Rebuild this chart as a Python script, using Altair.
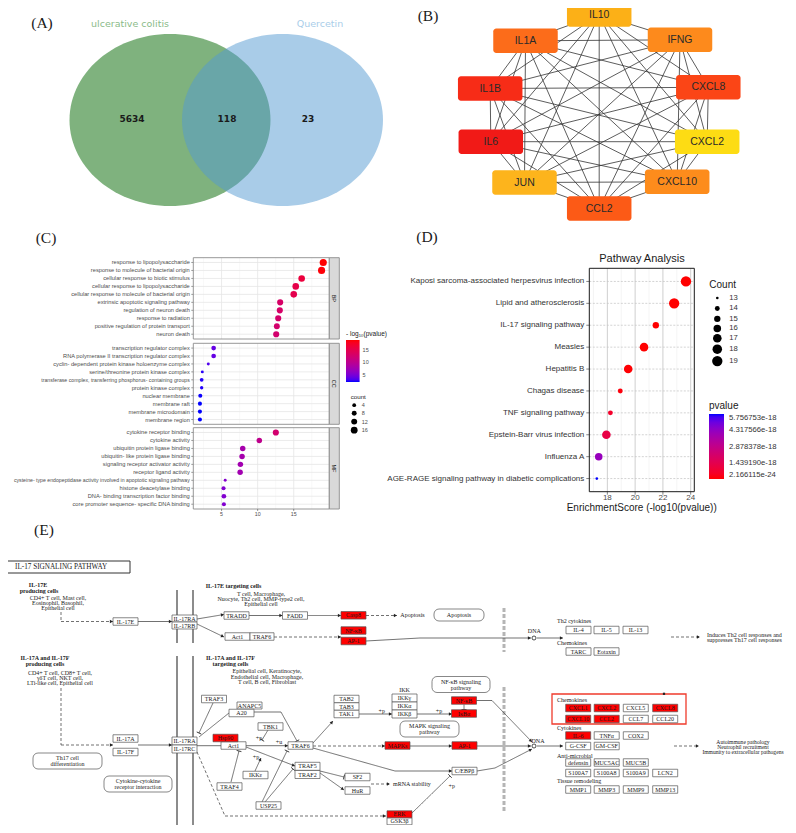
import math
import altair as alt
import pandas as pd

# ------------------------------------------------------------------ DATA
venn_sets = ["ulcerative colitis", "Quercetin"]
venn_counts = [5634, 118, 23]          # only UC, shared, only quercetin

hub_genes = ["IL10", "IFNG", "CXCL8", "CXCL2", "CXCL10", "CCL2", "JUN", "IL6", "IL1B", "IL1A"]

go_bp_terms = ["response to lipopolysaccharide", "response to molecule of bacterial origin",
               "cellular response to biotic stimulus", "cellular response to lipopolysaccharide",
               "cellular response to molecule of bacterial origin", "extrinsic apoptotic signaling pathway",
               "regulation of neuron death", "response to radiation",
               "positive regulation of protein transport", "neuron death"]
go_bp_score = [19.09, 18.86, 16.10, 15.28, 15.00, 13.12, 13.07, 12.85, 12.66, 12.57]
go_bp_count = [18, 18, 15, 15, 15, 13, 13, 13, 12, 13]

go_cc_terms = ["transcription regulator complex", "RNA polymerase II transcription regulator complex",
               "cyclin- dependent protein kinase holoenzyme complex", "serine/threonine protein kinase complex",
               "transferase complex, transferring phosphorus- containing groups", "protein kinase complex",
               "nuclear membrane", "membrane raft", "membrane microdomain", "membrane region"]
go_cc_score = [3.90, 3.90, 3.16, 2.33, 2.24, 2.24, 2.05, 2.00, 2.00, 2.00]
go_cc_count = [7, 7, 2, 2, 4, 3, 5, 5, 5, 5]

go_mf_terms = ["cytokine receptor binding", "cytokine activity", "ubiquitin protein ligase binding",
               "ubiquitin- like protein ligase binding", "signaling receptor activator activity",
               "receptor ligand activity",
               "cysteine- type endopeptidase activity involved in apoptotic signaling pathway",
               "histone deacetylase binding", "DNA- binding transcription factor binding",
               "core promoter sequence- specific DNA binding"]
go_mf_score = [12.52, 10.23, 7.93, 7.84, 7.61, 7.57, 5.50, 5.27, 5.32, 5.32]
go_mf_count = [13, 10, 10, 10, 10, 10, 2, 5, 7, 5]

kegg_terms = ["Kaposi sarcoma-associated herpesvirus infection", "Lipid and atherosclerosis",
              "IL-17 signaling pathway", "Measles", "Hepatitis B", "Chagas disease",
              "TNF signaling pathway", "Epstein-Barr virus infection", "Influenza A",
              "AGE-RAGE signaling pathway in diabetic complications"]
kegg_score = [23.66, 22.81, 21.49, 20.64, 19.50, 18.93, 18.22, 17.93, 17.38, 17.24]
kegg_count = [19, 19, 15, 17, 17, 14, 14, 17, 16, 13]
kegg_pvalue_ticks = [2.166115e-24, 1.439190e-18, 2.878378e-18, 4.317566e-18, 5.756753e-18]

il17_hits = ["Casp8", "NF-κB", "AP-1", "Hsp90", "MAPKs", "IκBα", "ERK",
             "CXCL1", "CXCL2", "CXCL8", "CXCL10", "CCL2", "IL-6"]

# ------------------------------------------------------------------ LAYOUT / STYLE
W, H = 780, 817
PXS = alt.Scale(domain=[8, 788], range=[0, W])
PYS = alt.Scale(domain=[8, 825], range=[0, H])
SANS = "Liberation Sans"
SERIF = "Liberation Serif"


def exy(xf="x", yf="y"):
    return dict(x=alt.X(f"{xf}:Q", scale=PXS, axis=None), y=alt.Y(f"{yf}:Q", scale=PYS, axis=None))


def rect_layer(df, **mk):
    return alt.Chart(df).mark_rect(**mk).encode(
        x=alt.X("x0:Q", scale=PXS, axis=None), x2="x1:Q",
        y=alt.Y("y0:Q", scale=PYS, axis=None), y2="y1:Q")


def rule_layer(df, **mk):
    return alt.Chart(df).mark_rule(**mk).encode(
        x=alt.X("x0:Q", scale=PXS, axis=None), x2="x1:Q",
        y=alt.Y("y0:Q", scale=PYS, axis=None), y2="y1:Q")


def text_layer(rows, size, font, align="center", weight="normal", color="#1a1a1a", angle=None):
    df = pd.DataFrame(rows, columns=["t", "x", "y"])
    kw = dict(align=align, baseline="middle", fontSize=size, font=font, fontWeight=weight, color=color)
    if angle is not None:
        kw["angle"] = angle
    return alt.Chart(df).mark_text(**kw).encode(text="t:N", **exy())


def boxes(rows):
    return pd.DataFrame([dict(t=r[0], x=r[1], y=r[2], x0=r[1] - r[3] / 2, x1=r[1] + r[3] / 2,
                              y0=r[2] - r[4] / 2, y1=r[2] + r[4] / 2) for r in rows])


layers = []

# ---------------- panel letters
layers.append(text_layer([("(A)", 42, 23), ("(B)", 428, 16), ("(C)", 46, 238),
                          ("(D)", 427, 237), ("(E)", 44, 530)], 15.5, SERIF))

# ---------------- (A) Venn
ell = [(math.cos(2 * math.pi * k / 120), 0.856 * math.sin(2 * math.pi * k / 120)) for k in range(120)]
ELL = "M" + " L".join(f"{a:.4f},{b:.4f}" for a, b in ell) + " Z"
venn_df = pd.DataFrame({"set": venn_sets, "x": [170, 282.5], "y": [120, 120]})
layers.append(alt.Chart(venn_df.iloc[[0]]).mark_point(shape=ELL, size=40401, filled=True, color="#7fb27e",
                                                     opacity=1, strokeWidth=0).encode(**exy()))
layers.append(alt.Chart(venn_df.iloc[[1]]).mark_point(shape=ELL, size=40401, filled=True, color="#5399d2",
                                                     opacity=0.5, strokeWidth=0).encode(**exy()))
layers.append(text_layer([(venn_sets[0], 130, 24)], 9.5, "DejaVu Sans", color="#8abb89"))
layers.append(text_layer([(venn_sets[1], 320, 24)], 9.5, "DejaVu Sans", color="#a9cde9"))
layers.append(text_layer([(str(venn_counts[0]), 132, 119), (str(venn_counts[1]), 227, 119),
                          (str(venn_counts[2]), 308, 119)], 9, "DejaVu Sans", weight="bold"))

# ---------------- (B) PPI network
net_xy = [(599.2, 14.5), (680, 39.8), (708.3, 87.3), (707.2, 141.7), (677.2, 181.8),
          (599.2, 208.5), (524.5, 182.5), (490.8, 141.7), (490.2, 88.5), (525.5, 40.8)]
hub_palette = ["#fcb017", "#fd8a1c", "#fb4516", "#fddc14", "#fd8c1c",
               "#fc5a16", "#fdb41c", "#f11a17", "#f72c17", "#fc6c1a"]
edges = []
for i in range(len(hub_genes)):
    for j in range(i + 1, len(hub_genes)):
        edges.append(dict(x0=net_xy[i][0], y0=net_xy[i][1], x1=net_xy[j][0], y1=net_xy[j][1]))
layers.append(rule_layer(pd.DataFrame(edges), color="#333333", strokeWidth=0.8))
nodes = boxes([(g, xy[0], xy[1], 64.5, 24.5) for g, xy in zip(hub_genes, net_xy)])
layers.append(alt.Chart(nodes).mark_rect(cornerRadius=3).encode(
    x=alt.X("x0:Q", scale=PXS, axis=None), x2="x1:Q",
    y=alt.Y("y0:Q", scale=PYS, axis=None), y2="y1:Q",
    color=alt.Color("t:N", scale=alt.Scale(domain=hub_genes, range=hub_palette), legend=None)))
layers.append(alt.Chart(nodes).mark_text(fontSize=10.5, font=SANS, color="#2a2a2a", baseline="middle")
              .encode(text="t:N", **exy()))

# ---------------- (E) IL-17 pathway map
E_FS = 6
layers.append(rect_layer(pd.DataFrame([dict(x0=5, x1=130, y0=561, y1=573)]), fill="white",
                         stroke="#333333", strokeWidth=1))
layers.append(text_layer([("IL-17 SIGNALING PATHWAY", 15, 567)], 7.2, SERIF, align="left"))
mem = pd.DataFrame([dict(x0=177, x1=177, y0=590, y1=643), dict(x0=193, x1=193, y0=590, y1=643),
                    dict(x0=177, x1=177, y0=656, y1=830), dict(x0=193, x1=193, y0=656, y1=830)])
layers.append(rule_layer(mem, color="#8c8c8c", strokeWidth=2))
nuc = pd.DataFrame([dict(x0=504, x1=504, y0=608, y1=652), dict(x0=504, x1=504, y0=687, y1=812)])
layers.append(rule_layer(nuc, color="#b5b5b5", strokeWidth=3, strokeDash=[4, 2]))

links = [
    (61, 612, 61, 621.5, "dashed", ""), (61, 621.5, 113, 621.5, "dashed", "arrow"),
    (138, 621.5, 172, 621.5, "solid", "arrow"), (197, 619, 224, 614.5, "solid", "arrow"),
    (197, 624, 224, 637, "solid", "arrow"), (249, 615.5, 282.5, 615.5, "solid", "arrow"),
    (307.5, 615.5, 341, 615.5, "solid", "arrow"), (366, 615.5, 397, 615.5, "dashed", "arrow"),
    (274, 637, 341, 637, "dashed", "arrow"), (366, 641, 420, 638, "solid", ""),
    (420, 638, 531, 638, "solid", "arrow"), (537, 638, 563, 638, "solid", "arrow"),
    (671, 637, 700, 637, "dashed", "arrow"),
    (61, 688, 61, 745, "dashed", ""), (61, 745, 113, 745, "dashed", "arrow"),
    (138, 745, 172, 745, "solid", "arrow"), (197, 745.7, 221, 745.7, "solid", ""),
    (246, 745.7, 288, 745.7, "solid", "arrow"), (213, 703, 199, 733, "solid", "bar"),
    (229, 713, 199, 737, "solid", ""), (254, 712, 281, 712, "solid", ""),
    (281, 712, 297, 741, "solid", "bar"), (268, 730, 262, 740, "solid", "bar"),
    (313, 743, 333, 721, "solid", "arrow"), (359, 714, 392, 714, "solid", "arrow"),
    (417, 714, 452, 714, "solid", "arrow"), (464, 704.5, 464, 709.5, "solid", "bar"),
    (476, 700.5, 492, 700.5, "solid", ""), (492, 700.5, 532, 742, "solid", "arrow"),
    (313, 746, 385, 746, "dashed", "arrow"), (410, 746, 452, 746, "solid", "arrow"),
    (477, 746, 531, 746, "solid", "arrow"), (313, 748, 395, 771, "solid", ""),
    (395, 771, 452, 771, "solid", "arrow"), (477, 771, 495, 768, "solid", ""),
    (495, 768, 532, 749, "solid", "arrow"), (537, 746, 563, 746, "solid", "arrow"),
    (246, 747, 295, 766, "solid", "arrow"), (231, 782, 239, 751, "solid", "bar"),
    (255, 771, 261, 758, "solid", "arrow"), (262, 802, 287, 751, "solid", "bar"),
    (265, 802, 293, 769, "solid", "bar"), (320, 771, 344, 777, "solid", "bar"),
    (320, 773, 344, 790, "solid", "arrow"), (371, 784, 390, 784, "dashed", "arrow"),
    (197, 752, 225, 816, "dashed", ""), (225, 816, 386, 816, "dashed", "arrow"),
    (412, 813, 450, 776, "solid", "bar"), (674, 746, 699, 746, "dashed", "arrow"),
]
ldf = pd.DataFrame([dict(x0=a, y0=b, x1=c, y1=d, style=s) for a, b, c, d, s, _ in links])
layers.append(alt.Chart(ldf).mark_rule(color="#333333", strokeWidth=0.7).encode(
    x=alt.X("x0:Q", scale=PXS, axis=None), x2="x1:Q",
    y=alt.Y("y0:Q", scale=PYS, axis=None), y2="y1:Q",
    strokeDash=alt.StrokeDash("style:N", scale=alt.Scale(domain=["solid", "dashed"], range=[[1, 0], [3, 2]]),
                              legend=None)))
heads = []
for a, b, c, d, s, h in links:
    if not h:
        continue
    L = math.hypot(c - a, d - b)
    ux, uy = (c - a) / L, (d - b) / L
    ang = math.degrees(math.atan2(ux, -uy)) % 360
    back = 1.6 if h == "arrow" else 0
    heads.append(dict(x=c - ux * back, y=d - uy * back, ang=ang, kind=h))
hdf = pd.DataFrame(heads)
layers.append(alt.Chart(hdf[hdf.kind == "arrow"]).mark_point(shape="triangle-up", filled=True, size=12,
                                                             color="#222222", opacity=1).encode(
    angle=alt.Angle("ang:Q", scale=None), **exy()))
layers.append(alt.Chart(hdf[hdf.kind == "bar"]).mark_point(shape="stroke", filled=False, size=25,
                                                           color="#222222", strokeWidth=0.8, opacity=1).encode(
    angle=alt.Angle("ang:Q", scale=None), **exy()))

rbox = boxes([("Apoptosis", 459, 615, 50, 12), ("Th17 cell differentiation", 67.5, 761, 69, 16),
              ("Cytokine-cytokine receptor interaction", 138, 784, 68, 16),
              ("NF-κB signaling pathway", 461, 684.5, 58, 16), ("MAPK signaling pathway", 429.5, 729, 59, 16)])
layers.append(rect_layer(rbox, fill="white", stroke="#555555", strokeWidth=0.7, cornerRadius=5))
layers.append(text_layer([("Apoptosis", 459, 615), ("Th17 cell", 67.5, 758), ("differentiation", 67.5, 764),
                          ("Cytokine-cytokine", 138, 781), ("receptor interaction", 138, 787),
                          ("NF-κB signaling", 461, 681.5), ("pathway", 461, 687.5),
                          ("MAPK signaling", 429.5, 726), ("pathway", 429.5, 732)], E_FS, SERIF))

layers.append(rect_layer(pd.DataFrame([dict(x0=552, x1=686, y0=694, y1=724)]), fill="white",
                         stroke="#ef3b2c", strokeWidth=1.3))
layers.append(alt.Chart(pd.DataFrame({"x": [664], "y": [693.8]})).mark_square(size=5, color="#222222",
                                                                              opacity=1).encode(**exy()))

gene_boxes = [
    ("IL-17E", 125.5, 621.5, 25, 7.5), ("IL-17RA", 184.5, 618.5, 25, 7), ("IL-17RB", 184.5, 625.5, 25, 7),
    ("TRADD", 236.5, 615.5, 25, 7.5), ("FADD", 295, 615.5, 25, 7.5), ("Casp8", 353.5, 615.3, 25, 7.5),
    ("NF-κB", 353.5, 630.5, 25, 7.5), ("AP-1", 353.5, 641, 25, 7.5),
    ("Act1", 237.5, 636.5, 25, 7.5), ("TRAF6", 262, 636.5, 24, 7.5),
    ("IL-4", 578.5, 630, 25, 7.5), ("IL-5", 606.5, 630, 25, 7.5), ("IL-13", 635.5, 630, 25, 7.5),
    ("TARC", 578.5, 651.5, 25, 7.5), ("Eotaxin", 606.5, 651.5, 25, 7.5),
    ("IL-17A", 125.5, 738.5, 25, 7.5), ("IL-17F", 125.5, 752, 25, 7.5),
    ("IL-17RA", 184.5, 741, 25, 8), ("IL-17RC", 184.5, 749, 25, 8),
    ("TRAF3", 214, 699, 25, 7.5), ("ANAPC5", 249.5, 705.5, 25, 7), ("A20", 241.5, 713, 25, 7.5),
    ("Hsp90", 225.5, 738, 25, 7.5), ("Act1", 233.5, 745.5, 25, 7.5), ("TBK1", 270.5, 726.5, 25, 7.5),
    ("TRAF6", 300.5, 745.5, 25, 7.5), ("IKKε", 255.5, 775, 25, 7.5), ("TRAF4", 229.5, 786.5, 25, 7.5),
    ("USP25", 268.5, 805.5, 25, 7.5), ("TRAF5", 307.5, 766.3, 25, 8), ("TRAF2", 307.5, 774.5, 25, 8),
    ("SF2", 357.5, 777, 25, 7.5), ("HuR", 357.5, 790.5, 25, 7.5),
    ("TAB2", 346.5, 699, 25, 7.5), ("TAB3", 346.5, 706.5, 25, 7.5), ("TAK1", 346.5, 714, 25, 7.5),
    ("IKKγ", 404.5, 698, 25, 8), ("IKKα", 404.5, 706, 25, 8), ("IKKβ", 404.5, 714, 25, 8),
    ("NF-κB", 464, 700.5, 25, 7.5), ("IκBα", 464, 713.5, 25, 7.5),
    ("MAPKs", 397.5, 745.5, 25, 7.5), ("AP-1", 464.5, 745.5, 25, 7.5), ("C/EBPβ", 464.5, 771, 25, 7.5),
    ("ERK", 399.5, 814.3, 25, 7), ("GSK3β", 399.5, 821.3, 25, 7),
    ("CXCL1", 578.2, 708, 25, 7.5), ("CXCL2", 606.7, 708, 25, 7.5), ("CXCL5", 635.8, 708, 25, 7.5),
    ("CXCL8", 665.2, 708, 25, 7.5), ("CXCL10", 578.2, 719, 25, 7.5), ("CCL2", 606.7, 719, 25, 7.5),
    ("CCL7", 635.8, 719, 25, 7.5), ("CCL20", 665.2, 719, 25, 7.5),
    ("IL-6", 578.2, 735.5, 25, 7.5), ("TNFα", 606.7, 735.5, 25, 7.5), ("COX2", 635.8, 735.5, 25, 7.5),
    ("G-CSF", 578.2, 746, 25, 7.5), ("GM-CSF", 606.7, 746, 25, 7.5),
    ("defensin", 578.2, 762.5, 25, 7.5), ("MUC5AC", 606.7, 762.5, 25, 7.5), ("MUC5B", 635.8, 762.5, 25, 7.5),
    ("S100A7", 578.2, 773, 25, 7.5), ("S100A8", 606.7, 773, 25, 7.5), ("S100A9", 635.8, 773, 25, 7.5),
    ("LCN2", 665.2, 773, 25, 7.5),
    ("MMP1", 578.2, 789.5, 25, 7.5), ("MMP3", 606.7, 789.5, 25, 7.5), ("MMP9", 635.8, 789.5, 25, 7.5),
    ("MMP13", 665.2, 789.5, 25, 7.5),
]
gb = boxes(gene_boxes)
hit_mask = gb["t"].isin(il17_hits)
layers.append(rect_layer(gb[~hit_mask], fill="#ffffff", stroke="#555555", strokeWidth=0.7))
layers.append(rect_layer(gb[hit_mask], fill="#ff0000", stroke="#555555", strokeWidth=0.7))
layers.append(alt.Chart(gb).mark_text(fontSize=E_FS, font=SERIF, color="#1a1a1a", baseline="middle")
              .encode(text="t:N", **exy()))
layers.append(alt.Chart(pd.DataFrame({"x": [534, 534], "y": [638, 746]})).mark_point(
    shape="circle", size=16, filled=True, fill="white", stroke="#222222", strokeWidth=0.8, opacity=1).encode(**exy()))

layers.append(text_layer([("IL-17E", 38, 585), ("producing cells", 39, 591),
                          ("IL-17E targeting cells", 233.5, 586),
                          ("IL-17A and IL-17F", 45, 658), ("producing cells", 45, 664),
                          ("IL-17A and IL-17F", 230.5, 658), ("targeting cells", 230.5, 664)],
                         E_FS, SERIF, weight="bold"))
layers.append(text_layer([
    ("CD4+ T cell, Mast cell,", 58, 598), ("Eosinophil, Basophil,", 58, 603), ("Epithelial cell", 58, 608),
    ("T cell, Macrophage,", 261, 593.5), ("Nuocyte, Th2 cell, MMP-type2 cell,", 261, 599),
    ("Epithelial cell", 261, 604),
    ("CD4+ T cell, CD8+ T cell,", 60, 673), ("γδT cell, NKT cell,", 60, 678),
    ("LTi-like cell, Epithelial cell", 60, 683),
    ("Epithelial cell, Keratinocyte,", 267, 671), ("Endothelial cell, Macrophage,", 267, 676.5),
    ("T cell, B cell, Fibroblast", 267, 682),
    ("Apoptosis", 412.5, 615), ("DNA", 534.3, 630.5), ("DNA", 538, 740.5), ("IKK", 404.5, 690),
    ("+p", 259, 737.7), ("+u", 279, 741.7), ("+p", 256, 756.7), ("+p", 381.7, 710.7),
    ("+p", 439, 710.7), ("+p", 451.7, 786)], E_FS, SERIF))
layers.append(text_layer([("Autoimmune pathology", 743, 742), ("Neutrophil recruitment", 743, 747),
                          ("Immunity to extracellular pathogens", 743, 752)], 5.6, SERIF))
layers.append(text_layer([
    ("Th2 cytokines", 557, 621), ("Chemokines", 557, 643), ("Chemokines", 557, 700),
    ("Cytokines", 557, 727.5), ("Anti-microbial", 557, 755.7), ("Tissue remodeling", 557, 781),
    ("Induces Th2 cell responses and", 707, 635), ("suppresses Th17 cell responses", 707, 640),
    ("mRNA stability", 393, 784)], E_FS, SERIF, align="left"))

pix = alt.layer(*layers)

# ---------------- (C) GO dot plot, three facet panels
C_X0, C_X1 = 185.3, 321.3
C_XS = dict(domain=[1.08, 19.93], range=[C_X0, C_X1])
C_COLOR = alt.Scale(domain=[2.0, 19.09], range=["#0000ff", "#ff0000"], interpolate="lab")
C_SIZE = alt.Scale(domain=[4, 16], range=[14, 46])
one = pd.DataFrame({"k": [0]})


def go_panel(terms, scores, counts, top, bottom, strip, legends, xaxis):
    t, b = top - 8, bottom - 8
    df = pd.DataFrame({"term": terms, "score": scores, "count": counts})
    xs = alt.Scale(**C_XS)
    Y = alt.Y("term:N", scale=alt.Scale(type="point", domain=list(terms), range=[t, b], padding=0.6), axis=None)
    parts = []
    parts.append(alt.Chart(one).mark_rect(fill="white").encode(
        x=alt.value(C_X0), x2=alt.value(C_X1), y=alt.value(t), y2=alt.value(b)))
    parts.append(alt.Chart(pd.DataFrame({"v": [2.5, 7.5, 12.5, 17.5]})).mark_rule(
        color="#f3f3f3", strokeWidth=0.5).encode(x=alt.X("v:Q", scale=xs, axis=None),
                                                  y=alt.value(t), y2=alt.value(b)))
    parts.append(alt.Chart(pd.DataFrame({"v": [5, 10, 15]})).mark_rule(
        color="#e6e6e6", strokeWidth=0.8).encode(x=alt.X("v:Q", scale=xs, axis=None),
                                                 y=alt.value(t), y2=alt.value(b)))
    parts.append(alt.Chart(df).mark_rule(color="#e6e6e6", strokeWidth=0.8).encode(
        y=Y, x=alt.value(C_X0), x2=alt.value(C_X1)))
    if legends:
        cl = alt.Legend(title="- log₁₀(pvalue)", orient="none", legendX=338, legendY=322.5,
                        values=[5, 10, 15], direction="vertical", gradientLength=42,
                        gradientThickness=13.6, gradientStrokeWidth=0, titleFontSize=6.5,
                        titleFont=SANS, titleFontWeight="normal", titleColor="#1a1a1a", titlePadding=3,
                        labelFontSize=5.5, labelFont=SANS, labelColor="#4d4d4d", labelOffset=3,
                        labelOverlap=False, padding=0)
        sl = alt.Legend(title="count", orient="none", legendX=342.7, legendY=386,
                        values=[4, 8, 12, 16], symbolType="circle", symbolFillColor="black",
                        symbolStrokeColor="black", symbolStrokeWidth=0, symbolOpacity=1,
                        titleFontSize=6.2, titleFont=SANS, titleFontWeight="normal", titleColor="#1a1a1a",
                        titlePadding=2.2, labelFontSize=5.5, labelFont=SANS, labelColor="#4d4d4d",
                        labelOffset=4, rowPadding=1.1, padding=0)
    else:
        cl = None
        sl = None
    parts.append(alt.Chart(df).mark_circle(opacity=1).encode(
        x=alt.X("score:Q", scale=xs, axis=None), y=Y,
        color=alt.Color("score:Q", scale=C_COLOR, legend=cl),
        size=alt.Size("count:Q", scale=C_SIZE, legend=sl)))
    short = df[df["term"].str.len() <= 60]
    long_ = df[df["term"].str.len() > 60]
    parts.append(alt.Chart(short).mark_text(align="right", baseline="middle", fontSize=5.7, font=SANS,
                                            color="#4d4d4d").encode(y=Y, x=alt.value(C_X0 - 3.5), text="term:N"))
    if len(long_):
        parts.append(alt.Chart(long_).mark_text(align="right", baseline="middle", fontSize=5.2, font=SANS,
                                                color="#4d4d4d").encode(y=Y, x=alt.value(C_X0 - 3.5),
                                                                        text="term:N"))
    parts.append(alt.Chart(df).mark_rule(color="#333333", strokeWidth=0.5).encode(
        y=Y, x=alt.value(C_X0 - 2), x2=alt.value(C_X0)))
    parts.append(alt.Chart(one).mark_rect(fillOpacity=0, stroke="#8c8c8c", strokeWidth=0.9).encode(
        x=alt.value(C_X0), x2=alt.value(C_X1), y=alt.value(t), y2=alt.value(b)))
    parts.append(alt.Chart(one).mark_rect(fill="#d9d9d9", stroke="#8c8c8c", strokeWidth=0.9).encode(
        x=alt.value(C_X1), x2=alt.value(C_X1 + 10), y=alt.value(t), y2=alt.value(b)))
    parts.append(alt.Chart(one).mark_text(angle=90, fontSize=5.5, font=SANS, color="#1a1a1a",
                                          baseline="middle").encode(
        x=alt.value(C_X1 + 5), y=alt.value((t + b) / 2), text=alt.value(strip)))
    if xaxis:
        tk = pd.DataFrame({"v": [5, 10, 15], "lab": ["5", "10", "15"]})
        parts.append(alt.Chart(tk).mark_rule(color="#333333", strokeWidth=0.5).encode(
            x=alt.X("v:Q", scale=xs, axis=None), y=alt.value(b), y2=alt.value(b + 2)))
        parts.append(alt.Chart(tk).mark_text(fontSize=5.3, font=SANS, color="#4d4d4d", baseline="middle").encode(
            x=alt.X("v:Q", scale=xs, axis=None), y=alt.value(b + 5), text="lab:N"))
    return alt.layer(*parts)


c_bp = go_panel(go_bp_terms, go_bp_score, go_bp_count, 257.7, 339.0, "BP", False, False)
c_cc = go_panel(go_cc_terms, go_cc_score, go_cc_count, 343.3, 424.3, "CC", True, False)
c_mf = go_panel(go_mf_terms, go_mf_score, go_mf_count, 427.7, 509.0, "MF", False, True)

# ---------------- (D) KEGG dot plot
D_X0, D_X1, D_T, D_B = 581.3, 686.3, 260.3, 483.7
kdf = pd.DataFrame({"term": kegg_terms, "score": kegg_score, "count": kegg_count})
kdf["pvalue"] = 10.0 ** (-kdf["score"])
dxs = alt.Scale(domain=[16.7, 24.26], range=[D_X0, D_X1])
DY = alt.Y("term:N", scale=alt.Scale(type="point", domain=kegg_terms, range=[D_T, D_B], padding=0.6), axis=None)
dparts = []
dparts.append(alt.Chart(one).mark_rect(fill="white").encode(
    x=alt.value(D_X0), x2=alt.value(D_X1), y=alt.value(D_T), y2=alt.value(D_B)))
dparts.append(alt.Chart(pd.DataFrame({"v": [17, 19, 21, 23]})).mark_rule(
    color="#ececec", strokeWidth=0.6).encode(x=alt.X("v:Q", scale=dxs, axis=None),
                                             y=alt.value(D_T), y2=alt.value(D_B)))
dparts.append(alt.Chart(pd.DataFrame({"v": [18, 20, 22, 24]})).mark_rule(
    color="#cfcfcf", strokeWidth=1).encode(x=alt.X("v:Q", scale=dxs, axis=None),
                                           y=alt.value(D_T), y2=alt.value(D_B)))
dparts.append(alt.Chart(kdf).mark_rule(color="#c8c8c8", strokeWidth=0.8, strokeDash=[2, 1.5]).encode(
    y=DY, x=alt.value(D_X0), x2=alt.value(D_X1)))
dparts.append(alt.Chart(kdf).mark_circle(opacity=1).encode(
    x=alt.X("score:Q", scale=dxs, axis=None), y=DY,
    color=alt.Color("pvalue:Q", scale=alt.Scale(domain=[kegg_pvalue_ticks[0], kegg_pvalue_ticks[-1]],
                                                range=["#ff0000", "#0000ff"], interpolate="lab"),
                    legend=alt.Legend(title="pvalue", orient="none", legendX=701, legendY=392.7,
                                      values=kegg_pvalue_ticks, format=".6e", direction="vertical",
                                      gradientLength=65, gradientThickness=15, gradientStrokeWidth=0,
                                      titleFontSize=10, titleFont=SANS, titleFontWeight="normal",
                                      titleColor="#1a1a1a", titlePadding=3.3, labelFontSize=7.7,
                                      labelFont=SANS, labelColor="#333333", labelOffset=5,
                                      labelOverlap=False, padding=0)),
    size=alt.Size("count:Q", scale=alt.Scale(domain=[13, 19], range=[7, 107]),
                  legend=alt.Legend(title="Count", orient="none", legendX=701.3, legendY=272,
                                    values=[13, 14, 15, 16, 17, 18, 19], symbolType="circle",
                                    symbolFillColor="black", symbolStrokeColor="black", symbolStrokeWidth=0,
                                    symbolOpacity=1, symbolOffset=2.5, titleFontSize=10, titleFont=SANS,
                                    titleFontWeight="normal", titleColor="#1a1a1a", titlePadding=4.2,
                                    labelFontSize=7.7, labelFont=SANS, labelColor="#333333", labelOffset=6.5,
                                    rowPadding=1.4, padding=0))))
dparts.append(alt.Chart(kdf).mark_text(align="right", baseline="middle", fontSize=8, font=SANS,
                                       color="#333333").encode(y=DY, x=alt.value(D_X0 - 5), text="term:N"))
dparts.append(alt.Chart(kdf).mark_rule(color="#333333", strokeWidth=0.6).encode(
    y=DY, x=alt.value(D_X0 - 3), x2=alt.value(D_X0)))
dtk = pd.DataFrame({"v": [18, 20, 22, 24], "lab": ["18", "20", "22", "24"]})
dparts.append(alt.Chart(dtk).mark_rule(color="#333333", strokeWidth=0.6).encode(
    x=alt.X("v:Q", scale=dxs, axis=None), y=alt.value(D_B), y2=alt.value(D_B + 3)))
dparts.append(alt.Chart(dtk).mark_text(fontSize=8, font=SANS, color="#4d4d4d", baseline="middle").encode(
    x=alt.X("v:Q", scale=dxs, axis=None), y=alt.value(D_B + 6.6), text="lab:N"))
dparts.append(alt.Chart(one).mark_rect(fillOpacity=0, stroke="#1a1a1a", strokeWidth=1).encode(
    x=alt.value(D_X0), x2=alt.value(D_X1), y=alt.value(D_T), y2=alt.value(D_B)))
dparts.append(alt.Chart(one).mark_text(fontSize=11, font=SANS, color="#1a1a1a", baseline="middle").encode(
    x=alt.value(634), y=alt.value(251), text=alt.value("Pathway Analysis")))
dparts.append(alt.Chart(one).mark_text(fontSize=10, font=SANS, color="#1a1a1a", baseline="middle").encode(
    x=alt.value(633.7), y=alt.value(499.7), text=alt.value("EnrichmentScore (-log10(pvalue))")))
kegg = alt.layer(*dparts)

chart = alt.layer(pix, c_bp, c_cc, c_mf, kegg).resolve_scale(
    x="independent", y="independent", color="independent", size="independent"
).resolve_legend(color="independent", size="independent").properties(
    width=W, height=H, autosize=alt.AutoSizeParams(type="none"), padding=0
).configure_view(strokeWidth=0)

chart.save("out.html", embed_options={"renderer": "svg", "actions": False})
